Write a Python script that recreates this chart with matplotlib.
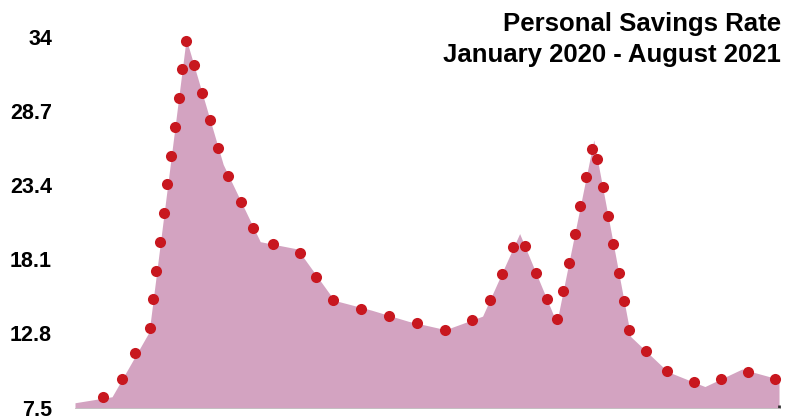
import numpy as np
import matplotlib.pyplot as plt

plt.rcParams['font.family'] = ['Liberation Sans', 'DejaVu Sans']

# Monthly personal savings rate, Jan 2020 - Aug 2021 (area outline)
months = ['2020-01', '2020-02', '2020-03', '2020-04', '2020-05', '2020-06', '2020-07',
          '2020-08', '2020-09', '2020-10', '2020-11', '2020-12', '2021-01', '2021-02',
          '2021-03', '2021-04', '2021-05', '2021-06', '2021-07', '2021-08']
rate = [7.84, 8.27, 12.9, 33.9, 24.9, 19.37, 18.85, 15.17, 14.47, 13.67,
        13.07, 14.04, 19.95, 13.56, 26.65, 12.57, 10.06, 9.0, 10.25, 9.52]

# red markers along the outline (position in months from Jan 2020, value)
dot_x = [0.748, 1.260, 1.628, 2.016, 2.105, 2.186, 2.294, 2.402, 2.483, 2.591,
         2.707, 2.807, 2.896, 2.996, 3.212, 3.428, 3.649, 3.860, 4.130, 4.472,
         4.812, 5.352, 6.065, 6.513, 6.972, 7.711, 8.462, 9.223, 9.987, 10.715,
         11.193, 11.517, 11.830, 12.141, 12.437, 12.740, 13.018, 13.177, 13.333, 13.487,
         13.638, 13.792, 13.946, 14.089, 14.243, 14.378, 14.529, 14.675, 14.818, 14.958,
         15.398, 15.978, 16.699, 17.422, 18.151, 18.902]
dot_y = [8.23, 9.56, 11.38, 13.17, 15.25, 17.27, 19.35, 21.42, 23.50, 25.50,
         27.58, 29.63, 31.70, 33.76, 32.04, 30.03, 28.07, 26.08, 24.07, 22.23,
         20.37, 19.18, 18.56, 16.84, 15.20, 14.57, 14.04, 13.53, 13.07, 13.76,
         15.18, 17.08, 18.97, 19.07, 17.15, 15.25, 13.81, 15.84, 17.87, 19.90,
         21.92, 23.98, 26.00, 25.31, 23.28, 21.23, 19.20, 17.15, 15.12, 13.08,
         11.51, 10.13, 9.36, 9.54, 10.06, 9.54]

yticks = [7.5, 12.8, 18.1, 23.4, 28.7, 34]
ytick_labels = ['7.5', '12.8', '18.1', '23.4', '28.7', '34']

W, H = 804, 419
fig = plt.figure(figsize=(W / 100, H / 100), dpi=100)
ax = fig.add_axes([75 / W, (H - 407.5) / H, 704 / W, 370.2 / H])

x = np.arange(len(rate))
ax.fill_between(x, 7.5, rate, color='#d3a3c1', linewidth=0)
ax.scatter(dot_x, dot_y, s=64, color='#c8171f', zorder=3, clip_on=False, linewidths=0)

ax.set_xlim(0, len(rate) - 1)
ax.set_ylim(7.5, 34)
ax.set_yticks(yticks)
ax.set_yticklabels(ytick_labels, fontsize=15.5, fontweight='bold')
ax.tick_params(axis='y', length=0, pad=16.5)
ax.set_xticks([len(rate) - 1])
ax.set_xticklabels([''])
ax.tick_params(axis='x', length=2, width=2, color='#333333', direction='in')
for side in ['top', 'right', 'left']:
    ax.spines[side].set_visible(False)
ax.spines['bottom'].set_color('#b9b3b7')
ax.spines['bottom'].set_linewidth(0.6)

fig.text(781 / W, 1 - 31 / H, 'Personal Savings Rate', ha='right', va='baseline',
         fontsize=18.5, fontweight='bold')
fig.text(781 / W, 1 - 62 / H, 'January 2020 - August 2021', ha='right', va='baseline',
         fontsize=18.5, fontweight='bold')

fig.savefig('out.png', dpi=100)
